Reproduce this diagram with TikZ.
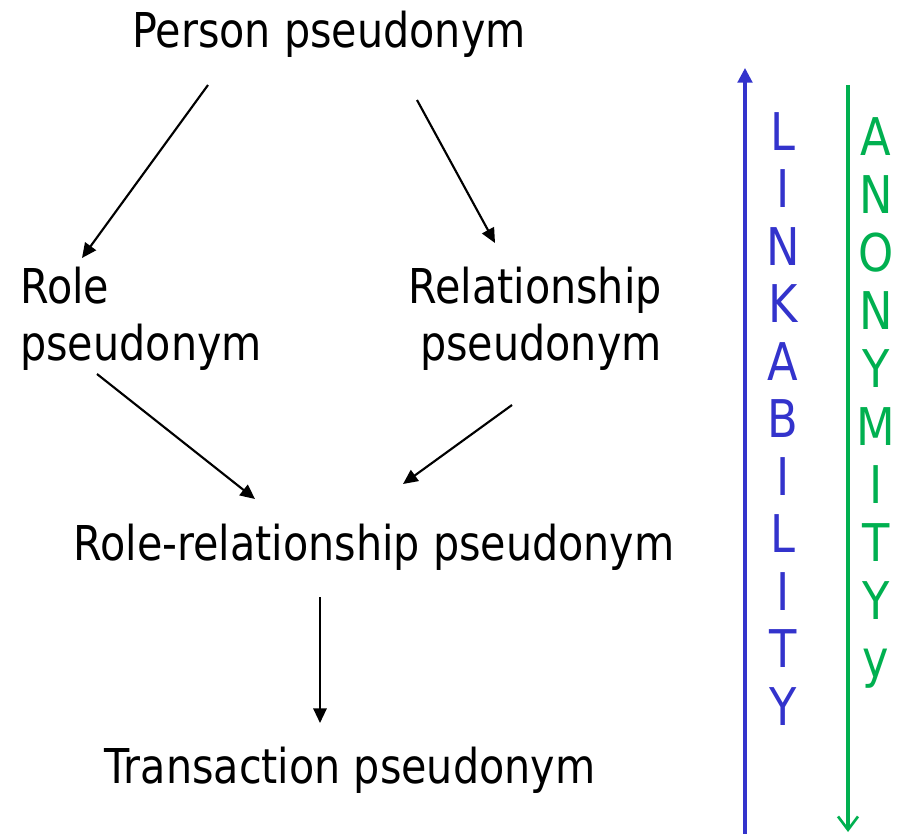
\documentclass[tikz,border=0pt]{standalone}
\usepackage{fontspec}
\setmainfont{DejaVu Sans}[FakeStretch=0.86]
\usetikzlibrary{arrows.meta}
\definecolor{linkblue}{HTML}{3333CC}
\definecolor{anongreen}{HTML}{00B050}
\begin{document}
\begin{tikzpicture}[x=0.75pt,y=-0.75pt,
  lbl/.style={inner sep=0pt, font=\fontsize{36}{43}\selectfont},
  vlet/.style={inner sep=0pt, anchor=base, font=\fontsize{39}{45}\selectfont},
  conn/.style={line width=1.6pt, -{Triangle[length=11pt,width=10pt]}},
  uparrow/.style={draw=linkblue, line width=2.3pt, -{Triangle[length=11pt,width=11pt]}, linkblue},
  downarrow/.style={draw=anongreen, line width=2.3pt, -{Straight Barb[length=10pt,width=15pt,line width=2pt]}, anongreen}]
\useasboundingbox (0,0) rectangle (898,833);
\fill[white] (0,0) rectangle (898,833);

\node[lbl, anchor=base] (person) at (329,47) {Person pseudonym};
\node[lbl, anchor=base west] (role1) at (20,303) {Role};
\node[lbl, anchor=base west] (role2) at (20,360) {pseudonym};
\node[lbl, anchor=base east] (rel1) at (662,303) {Relationship};
\node[lbl, anchor=base east] (rel2) at (662,360) {pseudonym};
\node[lbl, anchor=base] (rolerel) at (374,560) {Role-relationship pseudonym};
\node[lbl, anchor=base] (trans) at (350,783) {Transaction pseudonym};

\coordinate (a1s) at (208,85);  \coordinate (a1e) at (82,258);
\coordinate (a2s) at (417,100); \coordinate (a2e) at (495,243);
\coordinate (a3s) at (97,374);  \coordinate (a3e) at (255,499);
\coordinate (a4s) at (512,405); \coordinate (a4e) at (403,484);
\coordinate (a5s) at (320,597); \coordinate (a5e) at (320,723);
\draw[conn] (a1s) -- (a1e);
\draw[conn] (a2s) -- (a2e);
\draw[conn] (a3s) -- (a3e);
\draw[conn] (a4s) -- (a4e);
\draw[conn] (a5s) -- (a5e);

\coordinate (bs) at (745,834); \coordinate (be) at (745,68);
\draw[uparrow] (bs) -- (be);
\coordinate (gs) at (848,85); \coordinate (ge) at (848,832);
\draw[downarrow] (gs) -- (ge);

\foreach \l [count=\i from 0] in {L,I,N,K,A,B,I,L,I,T,Y}
  \node[vlet, text=linkblue] (b\i) at (783,150+57.5*\i) {\l};
\foreach \l [count=\i from 0] in {A,N,O,N,Y,M,I,T,Y,y}
  \node[vlet, text=anongreen] (g\i) at (876,155+58*\i) {\l};
\end{tikzpicture}
\end{document}
